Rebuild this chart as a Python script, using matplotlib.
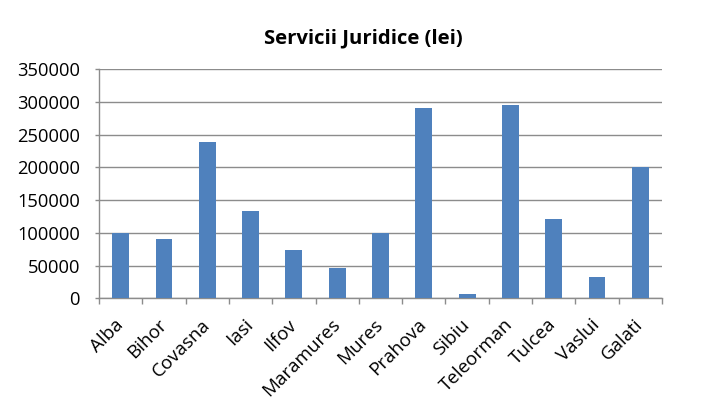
import matplotlib
matplotlib.use("Agg")
import matplotlib.pyplot as plt
import numpy as np

# ----------------------------------
# Data
# ----------------------------------
judete = ['Alba', 'Bihor', 'Covasna', 'Iasi', 'Ilfov', 'Maramures', 'Mures',
          'Prahova', 'Sibiu', 'Teleorman', 'Tulcea', 'Vaslui', 'Galati']
valori = [99500, 90000, 238500, 134000, 73000, 47000, 100000,
          291000, 7000, 295000, 120500, 33000, 201000]
y_ticks = [0, 50000, 100000, 150000, 200000, 250000, 300000, 350000]

plt.rcParams['font.family'] = ['Open Sans', 'DejaVu Sans']

fig = plt.figure(figsize=(7.10, 4.07), dpi=100)
ax = fig.add_axes([99 / 710, 1 - 298.3 / 407, (662 - 99) / 710, (298.3 - 69) / 407])

x = np.arange(len(judete))
ax.bar(x, valori, width=0.39, color='#4f81bd', zorder=3)

ax.set_xlim(-0.5, len(judete) - 0.5)
ax.set_ylim(0, 350000)
ax.set_yticks(y_ticks)
ax.set_yticklabels([str(v) for v in y_ticks])
ax.yaxis.grid(True, color='#8c8c8c', linewidth=1, zorder=0)

# category ticks sit between bars
ax.set_xticks(np.arange(-0.5, len(judete), 1.0))
ax.set_xticklabels([])
ax.set_xticks(x, minor=True)
ax.set_xticklabels(judete, minor=True, rotation=45, ha='right', va='center',
                   rotation_mode='anchor', fontsize=13.5)
ax.tick_params(axis='x', which='minor', length=0, pad=17)
ax.tick_params(axis='x', which='major', length=4.3, color='#8c8c8c', width=1)
ax.tick_params(axis='y', length=3.1, color='#8c8c8c', width=1, labelsize=13.2, pad=10.5)

for side in ['top', 'right']:
    ax.spines[side].set_visible(False)
for side in ['left', 'bottom']:
    ax.spines[side].set_color('#8c8c8c')
    ax.spines[side].set_linewidth(1)

fig.text(363 / 710, 1 - 38 / 407, 'Servicii Juridice (lei)', ha='center', va='center',
         fontsize=14.6, fontweight='bold')

fig.savefig('out.png', dpi=100, facecolor='white')
